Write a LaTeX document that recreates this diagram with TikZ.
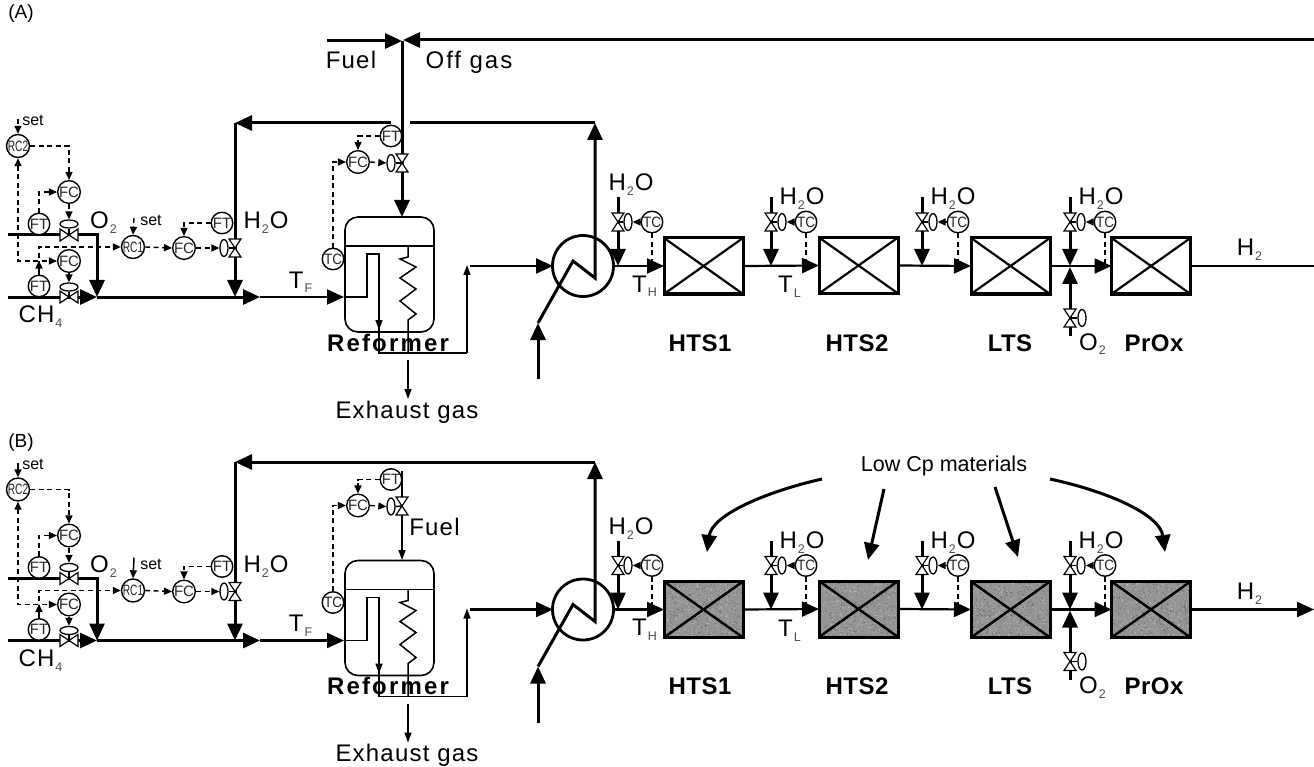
\documentclass[tikz,border=0pt]{standalone}
\usepackage{fontspec}
\usetikzlibrary{arrows.meta,shapes.geometric}
\setmainfont{Liberation Sans}
\newfontfamily\lfont[LetterSpace=5]{Liberation Sans}
\definecolor{subgray}{gray}{0.3}
\definecolor{catgray}{gray}{0.58}
\newcommand\sbs[1]{\kern1pt\raisebox{-4.5pt}{\fontsize{12.5}{12}\selectfont\color{subgray}#1}\kern1pt}
\newcommand\inst[4]{\node[instr] (#1) at (#2,#3) {#4};}
\newcommand\vlv[3]{\coordinate (#1) at (#2,#3);
  \draw[valve] (#1) -- ++(-6,-9) -- ++(12,0) -- cycle (#1) -- ++(-6,9) -- ++(12,0) -- cycle;}
\newcommand\hlv[3]{\coordinate (#1) at (#2,#3);
  \draw[valve] (#1) -- ++(-9,-6) -- ++(0,12) -- cycle (#1) -- ++(9,-6) -- ++(0,12) -- cycle;}
\tikzset{
  instr/.style={circle,draw,fill=white,line width=1.4pt,minimum size=21.5pt,inner sep=0pt,text=black!85,font=\fontsize{15}{15}\selectfont},
  valve/.style={draw,fill=white,line width=1.2pt,line join=miter},
  actv/.style={ellipse,draw,fill=white,line width=1.3pt,minimum width=8pt,minimum height=17pt,inner sep=0pt},
  acth/.style={ellipse,draw,fill=white,line width=1.3pt,minimum width=18pt,minimum height=8pt,inner sep=0pt},
  heavy/.style={line width=3pt},
  mainl/.style={line width=2.2pt},
  thinl/.style={line width=1.5pt},
  dsh/.style={line width=1.4pt,dash pattern=on 5pt off 3.5pt},
  big/.tip={Triangle[length=17pt,width=15pt]},
  small/.tip={Triangle[length=8pt,width=7pt]},
  mid/.tip={Triangle[length=10pt,width=7pt]},
  lbl/.style={anchor=base,inner sep=0pt,font=\lfont\fontsize{24}{26}\selectfont},
  setl/.style={anchor=base,inner sep=0pt,font=\fontsize{16}{17}\selectfont},
  bld/.style={anchor=base,inner sep=0pt,font=\lfont\bfseries\fontsize{24}{26}\selectfont\addfontfeature{LetterSpace=2}},
  reactor/.style={draw,line width=3pt,minimum width=79pt,minimum height=56pt,inner sep=0pt,outer sep=0pt},
  diag/.style={line width=2.2pt},
  captn/.style={anchor=base,inner sep=0pt,font=\fontsize{19}{20}\selectfont},
}
% #1 prefix, #2 vertical offset, #3 style of the set lines, #4 reactor fill,
% #5 start of right set line, #6 level of recycle line
\newcommand\panel[6]{
\begin{scope}[yshift=-#2pt]
  \coordinate (#1o0) at (8,235); \coordinate (#1oc) at (97,235); \coordinate (#1mx) at (97,297);
  \coordinate (#1c0) at (8,297); \coordinate (#1tf) at (260,297);
  \coordinate (#1rin) at (344,297);
  \draw[heavy,-{big},line join=miter] (#1o0) -- (#1oc) -- (#1mx);
  \draw[heavy,-{big}] (#1c0) -- (#1mx);
  \draw[heavy,-{big}] (#1mx) -- (#1tf);
  \draw[mainl,-{big}] (#1tf) -- (#1rin);
  \coordinate (#1s2) at (18,119); \coordinate (#1s1) at (134,#5);
  \inst{#1rc2}{18}{146}{\scalebox{.68}[1]{RC2}}
  \inst{#1fc1}{69}{192}{FC}
  \inst{#1ft1}{39}{224}{FT}
  \inst{#1fc2}{69}{261}{FC}
  \inst{#1ft2}{39}{286}{FT}
  \inst{#1rc1}{133}{247}{\scalebox{.68}[1]{RC1}}
  \inst{#1fc3}{184}{248}{FC}
  \inst{#1ft3}{222}{223}{FT}
  \node[acth] (#1a1) at (69,224) {};
  \node[acth] (#1a2) at (69,287) {};
  \node[actv] (#1a3) at (224,248) {};
  \draw[#3,-{small}] (#1s2) -- (#1rc2.north);
  \draw[#3,-{small}] (#1s1) -- (#1rc1.north);
  \draw[dsh,-{small}] (#1rc2.east) -| (#1fc1.north);
  \draw[dsh,-{small}] (#1ft1.north) |- (#1fc1.west);
  \draw[dsh,-{small}] (#1fc1.south) -- (#1a1.north);
  \draw[dsh,{small}-{small}] (#1rc2.south) |- (#1fc2.west);
  \draw[dsh,-{small}] (#1ft2.north) |- (#1rc1.west);
  \draw[thinl,-{small}] (#1ft2.north) -- ++(0,-14);
  \draw[dsh,-{small}] (#1fc2.south) -- (#1a2.north);
  \draw[dsh,-{small}] (#1rc1.east) -- (#1fc3.west);
  \draw[dsh,-{small}] (#1ft3.west) -| (#1fc3.north);
  \draw[dsh,-{small}] (#1fc3.east) -- (#1a3.west);
  \hlv{#1v1}{69}{235}
  \hlv{#1v2}{69}{297}
  \coordinate (#1wt) at (235,#6);
  \coordinate (#1wb) at (235,297);
  \draw[heavy,-{big}] (#1wt) -- (#1wb);
  \vlv{#1v3}{235}{248}
  \draw[thinl] (#1a3.east) -- (#1v3);
  \draw[thinl] (#1a1.south) -- (#1v1);
  \draw[thinl] (#1a2.south) -- (#1v2);
  \node[draw,line width=1.6pt,rounded corners=13pt,minimum width=89pt,minimum height=115pt,inner sep=0pt] (#1ref) at (389.5,274.5) {};
  \coordinate (#1rl) at (345,246); \coordinate (#1rr) at (434,246);
  \draw[line width=1.8pt] (#1rl) -- (#1rr);
  \coordinate (#1p1) at (367,297); \coordinate (#1p2) at (367,254); \coordinate (#1p3) at (379,254);
  \coordinate (#1p4) at (379,330); \coordinate (#1p5) at (379,353); \coordinate (#1p6) at (467,353);
  \coordinate (#1p7) at (467,265); \coordinate (#1p8) at (470,266); \coordinate (#1ei) at (553,266);
  \draw[thinl] (#1rin) -- (#1p1) -- (#1p2) -- (#1p3) -- (#1p5) -- (#1p6);
  \draw[thinl,-{mid}] (#1p3) -- (#1p4);
  \draw[thinl,-{mid}] (#1p6) -- (#1p7);
  \coordinate (#1c1) at (408,246); \coordinate (#1c2) at (408,257); \coordinate (#1c3) at (400,259);
  \coordinate (#1c4) at (416,267); \coordinate (#1c5) at (400,278); \coordinate (#1c6) at (416,289);
  \coordinate (#1c7) at (400,301); \coordinate (#1c8) at (416,314); \coordinate (#1c9) at (408,320);
  \coordinate (#1c10) at (408,353); \coordinate (#1e0) at (408,360); \coordinate (#1e1) at (408,399);
  \draw[thinl] (#1c1) -- (#1c2) -- (#1c3) -- (#1c4) -- (#1c5) -- (#1c6) -- (#1c7) -- (#1c8) -- (#1c9) -- (#1c10);
  \draw[thinl,-{mid}] (#1e0) -- (#1e1);
  \node[bld] (#1rt) at (388,351) {\addfontfeature{LetterSpace=9}Reformer};
  \node[lbl] (#1ex) at (407,418) {Exhaust gas};
  \inst{#1tc}{333}{259}{\scalebox{.9}[1]{TC}}
  \inst{#1fc4}{358}{162}{FC}
  \inst{#1ft4}{391}{136}{FT}
  \node[actv] (#1a4) at (391,163) {};
  \draw[dsh,-{small}] (#1tc.north) |- (#1fc4.west);
  \draw[dsh,-{small}] (#1ft4.west) -| (#1fc4.north);
  \draw[dsh,-{small}] (#1fc4.east) -- (#1a4.west);
  \node[circle,draw,line width=2.8pt,minimum size=61pt,inner sep=0pt] (#1hx) at (583,266) {};
  \coordinate (#1z0) at (538,379); \coordinate (#1z1) at (538,323); \coordinate (#1z2) at (573,261);
  \coordinate (#1z3) at (595,278); \coordinate (#1z4) at (595,#6);
  \draw[heavy,-{big}] (#1z0) -- (#1z1);
  \draw[heavy,-{big},line join=miter] (#1z1) -- (#1z2) -- (#1z3) -- (#1z4);
  \draw[mainl,-{big}] (#1p8) -- (#1ei);
  \node[reactor,fill=#4] (#1r1) at (703.5,266) {};
  \node[reactor,fill=#4] (#1r2) at (858.5,265.5) {};
  \node[reactor,fill=#4] (#1r3) at (1010.5,266) {};
  \node[reactor,fill=#4] (#1r4) at (1151,266) {};
  \foreach \b in {r1,r2,r3,r4}{
    \draw[diag] (#1\b.north west) -- (#1\b.south east);
    \draw[diag] (#1\b.south west) -- (#1\b.north east);
  }
  \coordinate (#1h2end) at (1314,266);
  \draw[mainl,-{big}] (#1hx.east) -- (#1r1.west);
  \draw[mainl,-{big}] (#1r1.east) -- (#1r2.west);
  \draw[mainl,-{big}] (#1r2.east) -- (#1r3.west);
  \draw[mainl,-{big}] (#1r3.east) -- (#1r4.west);
  \foreach \n/\qx/\ax/\tx in {1/618/628/652,2/771/782/806,3/922/933/958,4/1070/1081/1105}{
    \coordinate (#1qt\n) at (\qx,197);
    \coordinate (#1qb\n) at (\qx,266);
    \draw[heavy,-{big}] (#1qt\n) -- (#1qb\n);
    \node[actv] (#1qa\n) at (\ax,222) {};
    \inst{#1qc\n}{\tx}{222}{\scalebox{.9}[1]{TC}}
    \coordinate (#1qm\n) at (\tx,264);
    \draw[dsh] (#1qc\n.south) -- (#1qm\n);
    \draw[thinl,-{small}] (#1qc\n.west) -- (#1qa\n.east);
    \vlv{#1qv\n}{\qx}{222}
    \draw[thinl] (#1qa\n.west) -- (#1qv\n);
  }
  \coordinate (#1ot) at (1070,336); \coordinate (#1ob) at (1070,267);
  \draw[heavy,-{big}] (#1ot) -- (#1ob);
  \node[actv] (#1oa) at (1082,318) {};
  \vlv{#1ov}{1070}{318}
  \draw[thinl] (#1oa.west) -- (#1ov);
  \node[setl] (#1l1) at (33,126) {set};
  \node[setl] (#1l2) at (151,226) {set};
  \node[lbl] (#1l3) at (104,229) {O\sbs{2}};
  \node[lbl] (#1l4) at (266,229) {H\sbs{2}O};
  \node[lbl] (#1l5) at (41,323) {CH\sbs{4}};
  \node[lbl] (#1l6) at (301,288) {T\sbs{F}};
  \node[lbl] (#1l7) at (631,191) {H\sbs{2}O};
  \node[lbl] (#1l8) at (802,205) {H\sbs{2}O};
  \node[lbl] (#1l9) at (953,205) {H\sbs{2}O};
  \node[lbl] (#1l10) at (1101,205) {H\sbs{2}O};
  \node[lbl] (#1l11) at (645,292) {T\sbs{H}};
  \node[lbl] (#1l12) at (790,293) {T\sbs{L}};
  \node[lbl] (#1l13) at (1250,256) {H\sbs{2}};
  \node[lbl] (#1l14) at (1093,350) {O\sbs{2}};
  \node[bld] (#1l15) at (700,351) {HTS1};
  \node[bld] (#1l16) at (857,351) {HTS2};
  \node[bld] (#1l17) at (1010,351) {LTS};
  \node[bld] (#1l18) at (1154,351) {PrOx};
\end{scope}
}
\begin{document}
\begin{tikzpicture}[x=1pt,y=-1pt]
\useasboundingbox (0,0) rectangle (1314,767);
\fill[white] (0,0) rectangle (1314,767);
\node[captn] (capa) at (21,19) {(A)};
\node[captn] (capb) at (21,447) {(B)};
% ---------- panel A
\panel{A}{0}{dsh}{white}{218}{123}
\coordinate (Agl) at (391,123); \coordinate (Agr) at (410,123);
\draw[heavy] (Az4) -- (Agr);
\draw[heavy,-{big}] (Agl) -- (Awt);
\coordinate (Afj) at (402,41); \coordinate (Afj2) at (403,40);
\coordinate (Aft) at (402,217); \coordinate (Afs) at (327,41); \coordinate (Aog) at (1314,40);
\draw[heavy,-{big}] (Afs) -- (Afj);
\draw[heavy,-{big}] (Aog) -- (Afj2);
\draw[heavy,-{big}] (Afj) -- (Aft);
\vlv{Afv}{402}{163}
\draw[thinl] (Aa4.east) -- (Afv);
\draw[mainl] (Ar4.east) -- (Ah2end);
\node[lbl] (fuela) at (351,69) {Fuel};
\node[lbl] (offa) at (469,69) {\addfontfeature{LetterSpace=8}Off gas};
% ---------- panel B
\panel{B}{343.5}{thinl}{catgray}{214}{118.5}
\draw[heavy,-{big}] (Bz4) -- (Bwt);
\coordinate (Bft0) at (402,471); \coordinate (Bft) at (402,560);
\draw[thinl,-{mid}] (Bft0) -- (Bft);
\vlv{Bfv}{402}{506}
\draw[thinl] (Ba4.east) -- (Bfv);
\draw[mainl,-{big}] (Br4.east) -- (Bh2end);
\node[lbl] (fuelb) at (434.5,535) {Fuel};
\node[anchor=base,inner sep=0pt,font=\fontsize{21.5}{24}\selectfont] (low) at (944,471) {Low Cp materials};
% stippled catalyst texture
\pgfmathsetseed{7}
\foreach \b in {Br1,Br2,Br3,Br4}{
  \begin{scope}[shift={(\b.north west)}]
    \foreach \i in {1,...,240}{
      \fill[black!60] ({rnd*78},{rnd*55}) circle (0.6pt);
      \fill[black!25] ({rnd*78},{rnd*55}) circle (0.6pt);
    }
  \end{scope}
  \draw[line width=3pt] (\b.north west) rectangle (\b.south east);
  \draw[diag] (\b.north west) -- (\b.south east);
  \draw[diag] (\b.south west) -- (\b.north east);
}
\coordinate (k1) at (822,479); \coordinate (k1t) at (707,552);
\coordinate (k2) at (884,489); \coordinate (k2t) at (868,560);
\coordinate (k3) at (995,487); \coordinate (k3t) at (1018,557);
\coordinate (k4) at (1050,479); \coordinate (k4t) at (1165,552);
\draw[heavy,-{big}] (k1) .. controls (765,492) and (712,515) .. (k1t);
\draw[heavy,-{big}] (k2) -- (k2t);
\draw[heavy,-{big}] (k3) -- (k3t);
\draw[heavy,-{big}] (k4) .. controls (1110,492) and (1160,515) .. (k4t);
\end{tikzpicture}
\end{document}
